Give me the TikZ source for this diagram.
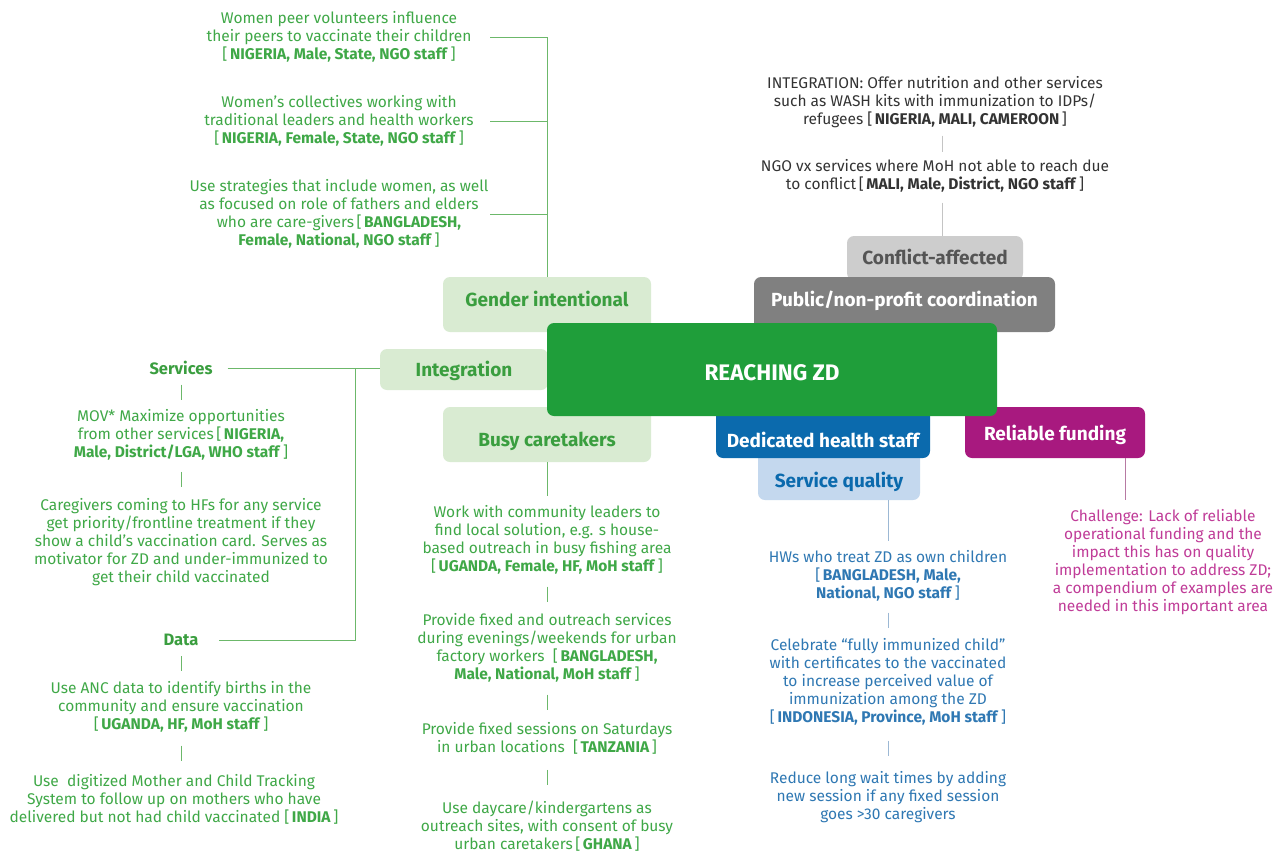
\documentclass[tikz,border=0pt]{standalone}
\usepackage{fontspec}
\setmainfont{Fira Sans}
\usetikzlibrary{calc}

\definecolor{zdgreen}{HTML}{1F9E3A}
\definecolor{palegreen}{HTML}{D9EBD2}
\definecolor{labelgreen}{HTML}{3A9E3F}
\definecolor{notegreen}{HTML}{3FA847}
\definecolor{linegreen}{HTML}{6CB86A}
\definecolor{palegray}{HTML}{CDCDCD}
\definecolor{midgray}{HTML}{808080}
\definecolor{darkgray}{HTML}{555555}
\definecolor{notegray}{HTML}{333333}
\definecolor{linegray}{HTML}{C4C4C4}
\definecolor{staffblue}{HTML}{0B6AAD}
\definecolor{paleblue}{HTML}{C4D8EE}
\definecolor{noteblue}{HTML}{2F78B3}
\definecolor{lineblue}{HTML}{9CB8D4}
\definecolor{fundpink}{HTML}{A8197F}
\definecolor{notepink}{HTML}{C03C98}
\definecolor{linepink}{HTML}{B77AA3}

\newcommand{\cty}[1]{[\,\textbf{#1}\,]}

\begin{document}
\begin{tikzpicture}[x=1pt,y=-1pt,
    box/.style={rounded corners=7pt, inner sep=0pt, anchor=base, font=\fontsize{19}{22}\selectfont\bfseries},
    note/.style={align=center, inner sep=0pt, font=\fontsize{15.5}{18}\selectfont},
    head/.style={inner sep=0pt, font=\fontsize{16.5}{18}\selectfont\bfseries, text=labelgreen},
    link/.style={line width=1pt}]
  \fill[white] (0,0) rectangle (1288,854);
  \useasboundingbox (0,0) rectangle (1288,854);

  % branch boxes (back to front)
  \node[box, fill=palegray, text=darkgray, minimum width=176pt, text height=28.5pt, text depth=15.5pt] (conflict) at (935,264.5) {Conflict-affected};
  \node[box, fill=midgray, text=white, minimum width=301pt, text height=29.5pt, text depth=25.5pt] (public) at (904.5,306.5) {Public/non-profit coordination};
  \node[box, fill=palegreen, text=labelgreen, minimum width=208pt, text height=29.5pt, text depth=25.5pt] (gender) at (547,306.5) {Gender intentional};
  \node[box, fill=palegreen, text=labelgreen, minimum width=168pt, text height=27.5pt, text depth=13.5pt] (integ) at (464,376.5) {Integration};
  \node[box, fill=palegreen, text=labelgreen, minimum width=208pt, text height=39.5pt, text depth=15.5pt] (busy) at (547,446.5) {Busy caretakers};
  \node[box, fill=paleblue, text=staffblue, minimum width=162pt, text height=37.5pt, text depth=12.5pt] (quality) at (839,487.5) {Service quality};
  \node[box, fill=staffblue, text=white, minimum width=214pt, text height=42.5pt, text depth=10.5pt] (staff) at (823,447.5) {Dedicated health staff};
  \node[box, fill=fundpink, text=white, minimum width=180pt, text height=33.5pt, text depth=17.5pt] (funding) at (1055,440.5) {Reliable funding};
  \node[box, fill=zdgreen, text=white, minimum width=450pt, text height=57pt, text depth=36pt, font=\fontsize{22.5}{26}\selectfont\bfseries] (zd) at (772,380) {REACHING ZD};

  % gender intentional
  \node[note, text=notegreen] (g1) at (339,37) {Women peer volunteers influence\\their peers to vaccinate their children\\{}\cty{NIGERIA, Male, State, NGO staff}};
  \node[note, text=notegreen] (g2) at (339,121) {Women’s collectives working with\\traditional leaders and health workers\\{}\cty{NIGERIA, Female, State, NGO staff}};
  \node[note, text=notegreen] (g3) at (339,214) {Use strategies that include women, as well\\as focused on role of fathers and elders\\who are care-givers\,[\,\textbf{BANGLADESH,}\\\textbf{Female, National, NGO staff}\,]};
  \coordinate (gx) at (490,0);
  \draw[link, linegreen] (gender.north) |- (g1.east -| gx);
  \draw[link, linegreen] (g2.east -| gx) -- (g2.east -| gender.north);
  \draw[link, linegreen] (g3.east -| gx) -- (g3.east -| gender.north);

  % conflict-affected
  \node[note, text=notegray] (wash) at (935,102) {INTEGRATION: Offer nutrition and other services\\such as WASH kits with immunization to IDPs/\\refugees \cty{NIGERIA, MALI, CAMEROON}};
  \node[note, text=notegray] (ngo) at (935,176) {NGO vx services where MoH not able to reach due\\to conflict\,\cty{MALI, Male, District, NGO staff}};
  \coordinate (cx) at (942,0);
  \draw[link, linegray] ($(wash.south -| cx)!.5!(ngo.north -| cx)$) +(0,-8) -- +(0,8);
  \draw[link, linegray] (ngo.south -| cx) ++(0,10) -- (conflict.north -| cx);

  % integration
  \node[head] (services) at (181,368) {Services};
  \node[note, text=notegreen] (mov) at (181,435) {MOV* Maximize opportunities\\from other services\,[\,\textbf{NIGERIA,}\\\textbf{Male, District/LGA, WHO staff}\,]};
  \node[note, text=notegreen] (care) at (181,542) {Caregivers coming to HFs for any service\\get priority/frontline treatment if they\\show a child’s vaccination card. Serves as\\motivator for ZD and under-immunized to\\get their child vaccinated};
  \node[head] (data) at (181,640) {Data};
  \node[note, text=notegreen] (anc) at (181,707) {Use ANC data to identify births in the\\community and ensure vaccination\\{}\cty{UGANDA, HF, MoH staff}};
  \node[note, text=notegreen] (india) at (174,799) {Use\ \ digitized Mother and Child Tracking\\System to follow up on mothers who have\\delivered but not had child vaccinated \cty{INDIA}};
  \coordinate (split) at (355,0);
  \draw[link, linegreen] ([xshift=15pt]services.east) -- (services.east -| integ.west);
  \draw[link, linegreen] (services.east -| split) |- ([xshift=20pt]data.east);
  \draw[link, linegreen] ($(services.south)!.5!(mov.north)$) +(0,-7.5) -- +(0,7.5);
  \draw[link, linegreen] ($(mov.south)!.5!(care.north)$) +(0,-7.5) -- +(0,7.5);
  \draw[link, linegreen] ($(data.south)!.5!(anc.north)$) +(0,-7.5) -- +(0,7.5);
  \draw[link, linegreen] ($(anc.south)!.5!(anc.south |- india.north)$) +(0,-7.5) -- +(0,7.5);

  % busy caretakers
  \node[note, text=notegreen] (w1) at (547,540) {Work with community leaders to\\find local solution, e.g. s house-\\based outreach in busy fishing area\\{}\cty{UGANDA, Female, HF, MoH staff}};
  \node[note, text=notegreen] (w2) at (547,648) {Provide fixed and outreach services\\during evenings/weekends for urban\\factory workers\ \ [\,\textbf{BANGLADESH,}\\\textbf{Male, National, MoH staff}\,]};
  \node[note, text=notegreen] (w3) at (547,738) {Provide fixed sessions on Saturdays\\in urban locations\ \ \cty{TANZANIA}};
  \node[note, text=notegreen] (w4) at (547,826) {Use daycare/kindergartens as\\outreach sites, with consent of busy\\urban caretakers\,\cty{GHANA}};
  \draw[link, linegreen] (busy.south) -- ([yshift=9pt]w1.north);
  \draw[link, linegreen] ($(w1.south)!.5!(w2.north)$) +(0,-7.5) -- +(0,7.5);
  \draw[link, linegreen] ($(w2.south)!.5!(w3.north)$) +(0,-7.5) -- +(0,7.5);
  \draw[link, linegreen] ($(w3.south)!.5!(w4.north)$) +(0,-7.5) -- +(0,7.5);

  % service quality
  \node[note, text=noteblue] (hw) at (888,576) {HWs who treat ZD as own children\\{}[\,\textbf{BANGLADESH, Male,}\\\textbf{National, NGO staff}\,]};
  \node[note, text=noteblue] (cert) at (888,682) {Celebrate “fully immunized child”\\with certificates to the vaccinated\\to increase perceived value of\\immunization among the ZD\\{}\cty{INDONESIA, Province, MoH staff}};
  \node[note, text=noteblue] (wait) at (888,797) {Reduce long wait times by adding\\new session if any fixed session\\goes >30 caregivers};
  \draw[link, lineblue] (hw.north |- quality.south) -- ([yshift=9pt]hw.north);
  \draw[link, lineblue] ($(hw.south)!.5!(cert.north)$) +(0,-7.5) -- +(0,7.5);
  \draw[link, lineblue] ($(cert.south)!.5!(wait.north)$) +(0,-7.5) -- +(0,7.5);

  % reliable funding
  \node[note, text=notepink] (gap) at (1163,562) {Challenge: Lack of reliable\\operational funding and the\\impact this has on quality\\implementation to address ZD;\\a compendium of examples are\\needed in this important area};
  \coordinate (fx) at (1125,0);
  \draw[link, linepink] (funding.south -| fx) -- ([yshift=9pt]gap.north -| fx);
\end{tikzpicture}
\end{document}
